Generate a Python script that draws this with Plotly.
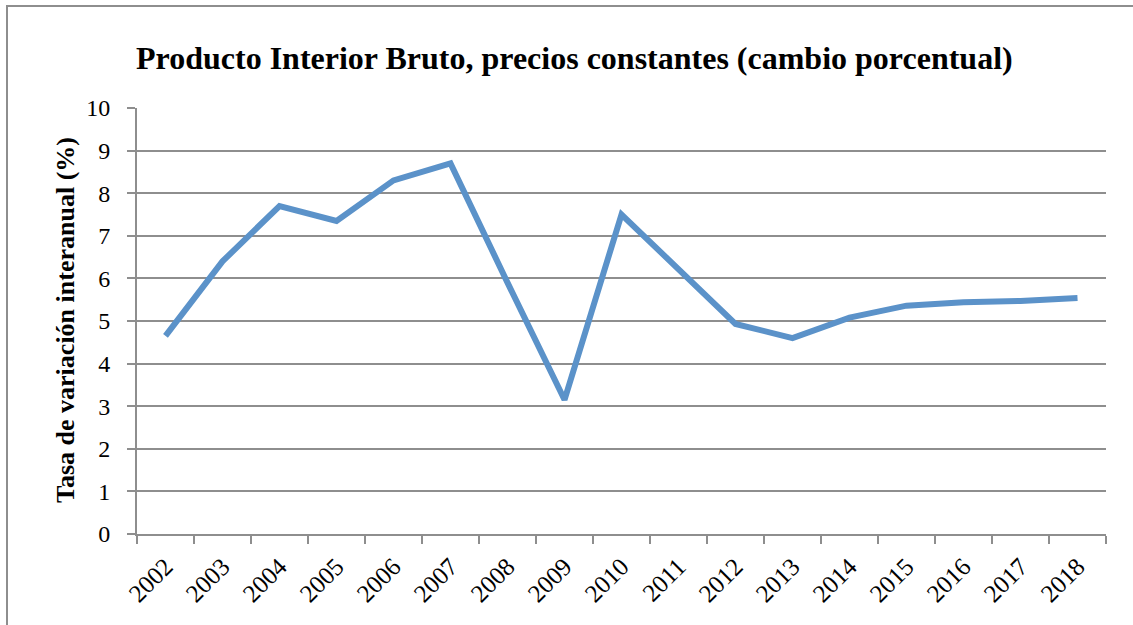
import plotly.graph_objects as go

years = [str(y) for y in range(2002, 2019)]
pib = [4.65, 6.4, 7.7, 7.35, 8.3, 8.7, 5.9, 3.15, 7.5, 6.2, 4.93, 4.6, 5.08, 5.36, 5.44, 5.47, 5.54]
y_ticks = list(range(0, 11))

title_text = "Producto Interior Bruto, precios constantes (cambio porcentual)"
ytitle_text = "Tasa de variación interanual (%)"

W, H = 1133, 625
L, R, T, B = 137, 27, 108, 91
pw, ph = W - L - R, H - T - B

def px(x):
    return (x - L) / pw

def py(y):
    return (H - B - y) / ph

FONT = "Liberation Serif, Times New Roman, serif"
GRID = "#8e8e8e"

fig = go.Figure()
fig.add_trace(go.Scatter(
    x=years, y=pib, mode="lines",
    line=dict(color="#5B92C9", width=6),
    hoverinfo="x+y", showlegend=False,
))

fig.update_layout(
    width=W, height=H,
    margin=dict(l=L, r=R, t=T, b=B, pad=0),
    paper_bgcolor="white", plot_bgcolor="white",
    font=dict(family=FONT, size=24, color="black"),
    xaxis=dict(
        type="category", range=[-0.5, 16.5], showgrid=False,
        showline=True, linecolor=GRID, linewidth=2,
        ticks="outside", tickson="boundaries", ticklen=8, tickwidth=2, tickcolor=GRID,
        tickangle=-45, ticklabelstandoff=6, tickfont=dict(size=25, family=FONT),
    ),
    yaxis=dict(
        range=[0, 10], tickvals=y_ticks, showgrid=True, gridcolor=GRID, gridwidth=2,
        showline=True, linecolor=GRID, linewidth=2, zeroline=False,
        ticks="outside", ticklen=8, tickwidth=2, tickcolor=GRID,
        ticklabelstandoff=12, tickfont=dict(size=24, family=FONT),
    ),
    annotations=[
        dict(text="<b>" + title_text + "</b>", xref="paper", yref="paper",
             x=px(574), y=py(58), xanchor="center", yanchor="middle",
             showarrow=False, font=dict(size=32, family=FONT, color="black")),
        dict(text="<b>" + ytitle_text + "</b>", xref="paper", yref="paper",
             x=px(65), y=py(320), xanchor="center", yanchor="middle", textangle=-90,
             showarrow=False, font=dict(size=26, family=FONT, color="black")),
    ],
    shapes=[
        dict(type="rect", xref="paper", yref="paper",
             x0=px(7), x1=px(1145), y0=py(640), y1=py(6),
             line=dict(color="#8e8e8e", width=2), fillcolor="rgba(0,0,0,0)", layer="below"),
    ],
)

fig.write_html("out.html", config={"displayModeBar": False},
               post_script="document.body.style.margin='0px';")
